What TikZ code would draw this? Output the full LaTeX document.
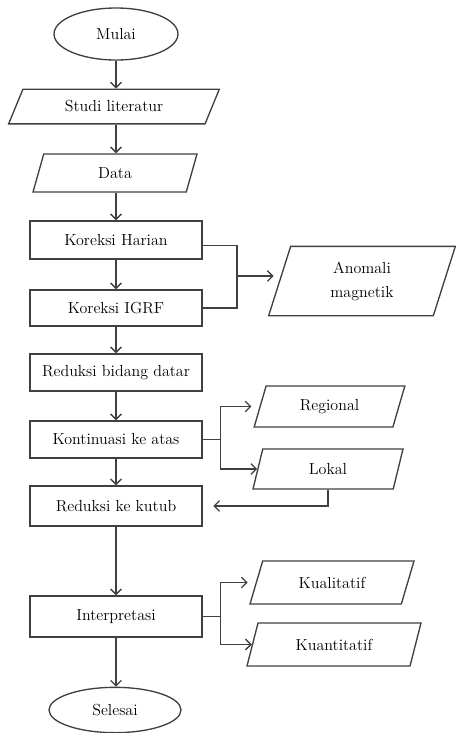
\documentclass[tikz,border=0pt]{standalone}
\usetikzlibrary{shapes.geometric,arrows.meta}
\definecolor{linec}{HTML}{404040}
\begin{document}
\begin{tikzpicture}[x=0.75pt,y=-0.75pt,
  every node/.style={font=\fontsize{12}{18}\selectfont, text=black},
  box/.style={draw=linec, line width=1pt, rectangle, minimum width=129pt},
  term/.style={draw=linec, line width=1pt, ellipse},
  io/.style 2 args={draw=linec, line width=1pt, trapezium, trapezium stretches body,
     trapezium left angle=#1, trapezium right angle=#2, inner sep=1pt, align=center},
  arr/.style={draw=linec, line width=1pt, -{Straight Barb[length=4pt,width=8pt]}},
  ln/.style={draw=linec, line width=1pt}]
\useasboundingbox (0,0) rectangle (456,733);

% main column
\node[term, minimum width=93pt, minimum height=39pt] (mulai) at (116,34) {Mulai};
\node[io={45}{135}, minimum width=158pt, minimum height=26pt] (studi) at (114,106.5) {Studi literatur};
\node[io={52}{128}, minimum width=123pt, minimum height=28.5pt] (data) at (115,173) {Data};
\node[box, minimum height=28.5pt] (kh) at (116,240) {Koreksi Harian};
\node[box, minimum height=27pt] (igrf) at (116,308) {Koreksi IGRF};
\node[box, minimum height=27.75pt] (rbd) at (116,372.5) {Reduksi bidang datar};
\node[box, minimum height=27.75pt] (ka) at (116,439.5) {Kontinuasi ke atas};
\node[box, minimum height=30pt] (rk) at (116,506) {Reduksi ke kutub};
\node[box, minimum height=30.75pt] (interp) at (116,616.5) {Interpretasi};
\node[term, minimum width=99pt, minimum height=34pt] (selesai) at (115,710) {Selesai};

% side outputs
\node[io={62}{118}, minimum width=140pt, minimum height=52pt] (anom) at (362,281) {Anomali\\magnetik};
\node[io={55}{125}, minimum width=113pt, minimum height=30.75pt] (reg) at (329.5,406.5) {Regional};
\node[io={55}{125}, minimum width=112.5pt, minimum height=30pt] (lok) at (328,469) {Lokal};
\node[io={48}{132}, minimum width=123pt, minimum height=32.25pt] (kual) at (332,582.5) {Kualitatif};
\node[io={52}{128}, minimum width=130.5pt, minimum height=32.25pt] (kuan) at (334,644.5) {Kuantitatif};

% junctions
\coordinate (j1) at (237,276);
\coordinate (j2) at ([xshift=13.5pt]ka.east);
\coordinate (j3) at ([xshift=13.5pt]interp.east);

% main arrows (vertical)
\draw[arr] (mulai.south) -- (mulai.south |- studi.north);
\draw[arr] (mulai.south |- studi.south) -- (mulai.south |- data.north);
\draw[arr] (mulai.south |- data.south) -- (mulai.south |- kh.north);
\draw[arr] (kh) -- (igrf);
\draw[arr] (igrf) -- (rbd);
\draw[arr] (rbd) -- (ka);
\draw[arr] (ka) -- (rk);
\draw[arr] (rk) -- (interp);
\draw[arr] (interp.south) -- (interp.south |- selesai.north);

% branch to anomali
\draw[ln] ([yshift=-4pt]kh.east) -| (j1);
\draw[ln] (igrf.east) -| (j1);
\draw[arr, shorten >=4pt] (j1) -- (j1 -| anom.west);

% kontinuasi branch
\draw[ln] (ka.east) -- (j2);
\draw[arr, shorten >=6pt] (j2) |- (reg.west);
\draw[arr] (j2) |- (lok.west);
\draw[arr, shorten >=8pt] (lok.south) |- (rk.east);

% interpretasi branch
\draw[ln] (interp.east) -- (j3);
\draw[arr, shorten >=6pt] (j3) |- (kual.west);
\draw[arr] (j3) |- (kuan.west);
\end{tikzpicture}
\end{document}
